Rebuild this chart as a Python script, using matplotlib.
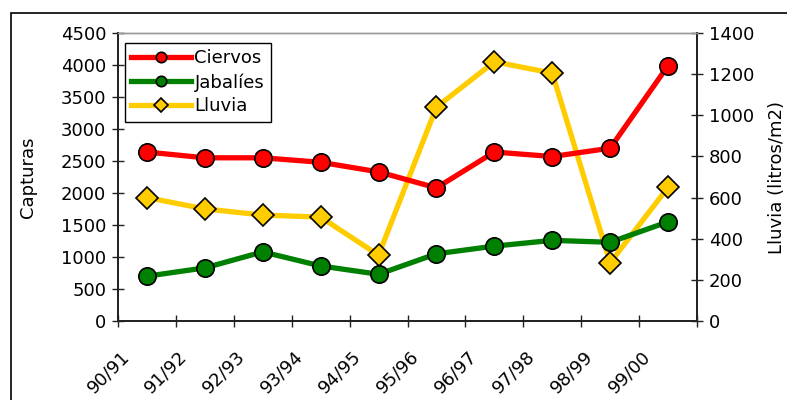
import matplotlib.pyplot as plt
import matplotlib.patches as patches
from matplotlib.transforms import ScaledTranslation

plt.rcParams['font.family'] = ['DejaVu Sans']

# ------------- DATA ------------- #
temporadas = ['90/91', '91/92', '92/93', '93/94', '94/95',
              '95/96', '96/97', '97/98', '98/99', '99/00']
ciervos = [2640, 2550, 2550, 2480, 2330, 2080, 2640, 2570, 2700, 3990]
jabalies = [700, 830, 1080, 860, 730, 1050, 1170, 1260, 1230, 1550]
lluvia = [600, 545, 515, 505, 320, 1040, 1260, 1205, 283, 650]

FS = 13

# ------------- FIGURE ------------- #
fig = plt.figure(figsize=(7.87, 4.0), dpi=100)
ax = fig.add_axes([118/787, 1 - 321/400, (697-118)/787, (321-33)/400])
ax2 = ax.twinx()

# outer chart frame
fig.patches.append(patches.Rectangle((11/787, -0.05), 1.2, 1.05 - 13/400,
                                     transform=fig.transFigure, fill=False,
                                     edgecolor='black', linewidth=1.2))

x = list(range(len(temporadas)))
mk = dict(markersize=12.5, markeredgecolor='black', markeredgewidth=1.2, linewidth=3.8)

l1, = ax.plot(x, ciervos, color='#ff0000', marker='o', markerfacecolor='#ff0000', label='Ciervos', **mk)
l2, = ax.plot(x, jabalies, color='#008000', marker='o', markerfacecolor='#008000', label='Jabalíes', **mk)
l3, = ax2.plot(x, lluvia, color='#ffcc00', marker='D', markerfacecolor='#ffcc00', label='Lluvia',
               markersize=11, markeredgecolor='black', markeredgewidth=1.2, linewidth=3.8)

ax.set_xlim(-0.5, len(temporadas) - 0.5)
ax.set_ylim(0, 4500)
ax2.set_ylim(0, 1400)
ax.set_yticks(range(0, 4501, 500))
ax2.set_yticks(range(0, 1401, 200))

# category boundaries as ticks, labels at centers
ax.set_xticks([i - 0.5 for i in range(len(temporadas) + 1)])
ax.set_xticklabels([])
ax.set_xticks(x, minor=True)
ax.set_xticklabels(temporadas, minor=True, rotation=45, ha='right', va='top', fontsize=FS)
ax.tick_params(axis='x', which='minor', length=0, pad=19)
off = ScaledTranslation(-14/100, 0, fig.dpi_scale_trans)
for lab in ax.get_xticklabels(minor=True):
    lab.set_transform(lab.get_transform() + off)

for a in (ax, ax2):
    a.tick_params(axis='both', which='major', direction='inout', length=9, width=1,
                  labelsize=FS, color='#222222', pad=4)
    for s in a.spines.values():
        s.set_color('#222222')
        s.set_linewidth(1.3)
    a.spines['top'].set_color('#999999')
    a.spines['top'].set_linewidth(1)

ax.set_ylabel('Capturas', fontsize=FS, labelpad=17)
ax2.set_ylabel('Lluvia (litros/m2)', fontsize=FS, labelpad=10)

leg = ax.legend(handles=[l1, l2, l3], loc='upper left', bbox_to_anchor=(0.012, 0.965),
                fontsize=FS, frameon=True, fancybox=False, framealpha=1,
                edgecolor='black', handlelength=3.3, borderpad=0.35,
                labelspacing=0.32, handletextpad=0.2, borderaxespad=0)
leg.get_frame().set_linewidth(1)
for h in leg.legend_handles:
    h.set_markersize(7.5)
    h.set_markeredgewidth(1.2)
leg.legend_handles[2].set_markersize(7)
leg.set_zorder(10)
ax.set_zorder(ax2.get_zorder() + 1)
ax.patch.set_visible(False)

fig.savefig('out.png', dpi=100)
